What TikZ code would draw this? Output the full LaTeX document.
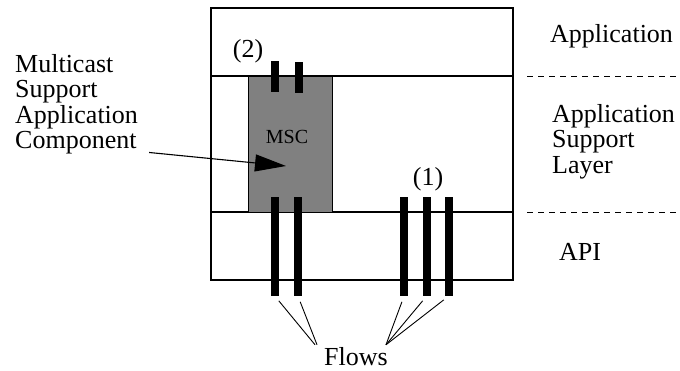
\documentclass[tikz,border=0pt]{standalone}
\usepackage{fontspec}
\setmainfont{Liberation Serif}
\usetikzlibrary{arrows.meta,positioning,calc}

\begin{document}
\begin{tikzpicture}[x=1pt, y=-1pt,
  layer/.style={draw, line width=1.2pt, minimum width=302pt, inner sep=0pt},
  mscbox/.style={draw, fill=black!50, line width=0.8pt, minimum width=84pt, minimum height=136pt, inner sep=0pt},
  flowbar/.style={fill=black, minimum width=8pt, inner sep=0pt},
  txt/.style={font=\fontsize{26}{25.5}\selectfont, inner sep=0pt, align=left},
  pointer/.style={-{Triangle[length=31pt, width=17pt]}, line width=1.1pt}
]
  \useasboundingbox (0,0) rectangle (680,370);

  %% Layer stack
  \node[layer, minimum height=68pt]  (app) at (362,42)  {};
  \node[layer, minimum height=136pt] (asl) at (362,144) {};
  \node[layer, minimum height=68pt]  (api) at (362,246) {};

  %% Multicast support component
  \node[mscbox] (msc) at (290,144) {};
  \node[font=\fontsize{20}{20}\selectfont, inner sep=0pt, anchor=base] (msclabel) at (287,143) {MSC};

  %% Flows (2) through the MSC
  \node[flowbar, minimum height=31pt] (tb1) at (275,76.5) {};
  \node[flowbar, minimum height=31pt] (tb2) at (299,77.5) {};
  \node[flowbar, minimum height=99pt] (fb1) at (275,246.5) {};
  \node[flowbar, minimum height=99pt] (fb2) at (298,246.5) {};
  \node[txt, anchor=base] (two) at (248,57) {(2)};

  %% Flows (1) straight through
  \node[flowbar, minimum height=99pt] (fb3) at (404,246.5) {};
  \node[flowbar, minimum height=99pt] (fb4) at (426.5,246.5) {};
  \node[flowbar, minimum height=99pt] (fb5) at (448.5,246.5) {};
  \node[txt, anchor=base] (one) at (428,185) {(1)};

  %% Flows label
  \node[txt, anchor=base] (flows) at (356,365) {Flows};
  \draw[line width=0.9pt, shorten <=6pt] (fb1.south) -- ([xshift=-9pt, yshift=2pt]flows.north west);
  \draw[line width=0.9pt, shorten <=6pt] (fb2.south) -- ([xshift=-7pt, yshift=2pt]flows.north west);
  \draw[line width=0.9pt, shorten <=6pt] (fb3.south) -- ([xshift=-2pt, yshift=2pt]flows.north east);
  \draw[line width=0.9pt, shorten <=6pt] (fb4.south) -- ([xshift=-2pt, yshift=2pt]flows.north east);
  \draw[line width=0.9pt, shorten <=6pt] (fb5.south) -- ([xshift=-2pt, yshift=2pt]flows.north east);

  %% Left pointer label
  \node[txt, anchor=north west] (mac) at (15,54) {Multicast\\Support\\Application\\Component};
  \coordinate (msctip) at ($(msc.center)+(-4,22)$);
  \draw[pointer] ([xshift=11pt, yshift=2pt]mac.south east) -- (msctip);

  %% Layer names on the right
  \draw[line width=0.8pt, dash pattern=on 6pt off 5pt] (527,76) -- (680,76);
  \draw[line width=0.8pt, dash pattern=on 6pt off 5pt] (527,212) -- (680,212);
  \node[txt, anchor=base west] (appname) at (550,42) {Application};
  \node[txt, anchor=north west] (aslname) at (552,104) {Application\\Support\\Layer};
  \node[txt, anchor=base west] (apiname) at (559,260) {API};
\end{tikzpicture}
\end{document}
